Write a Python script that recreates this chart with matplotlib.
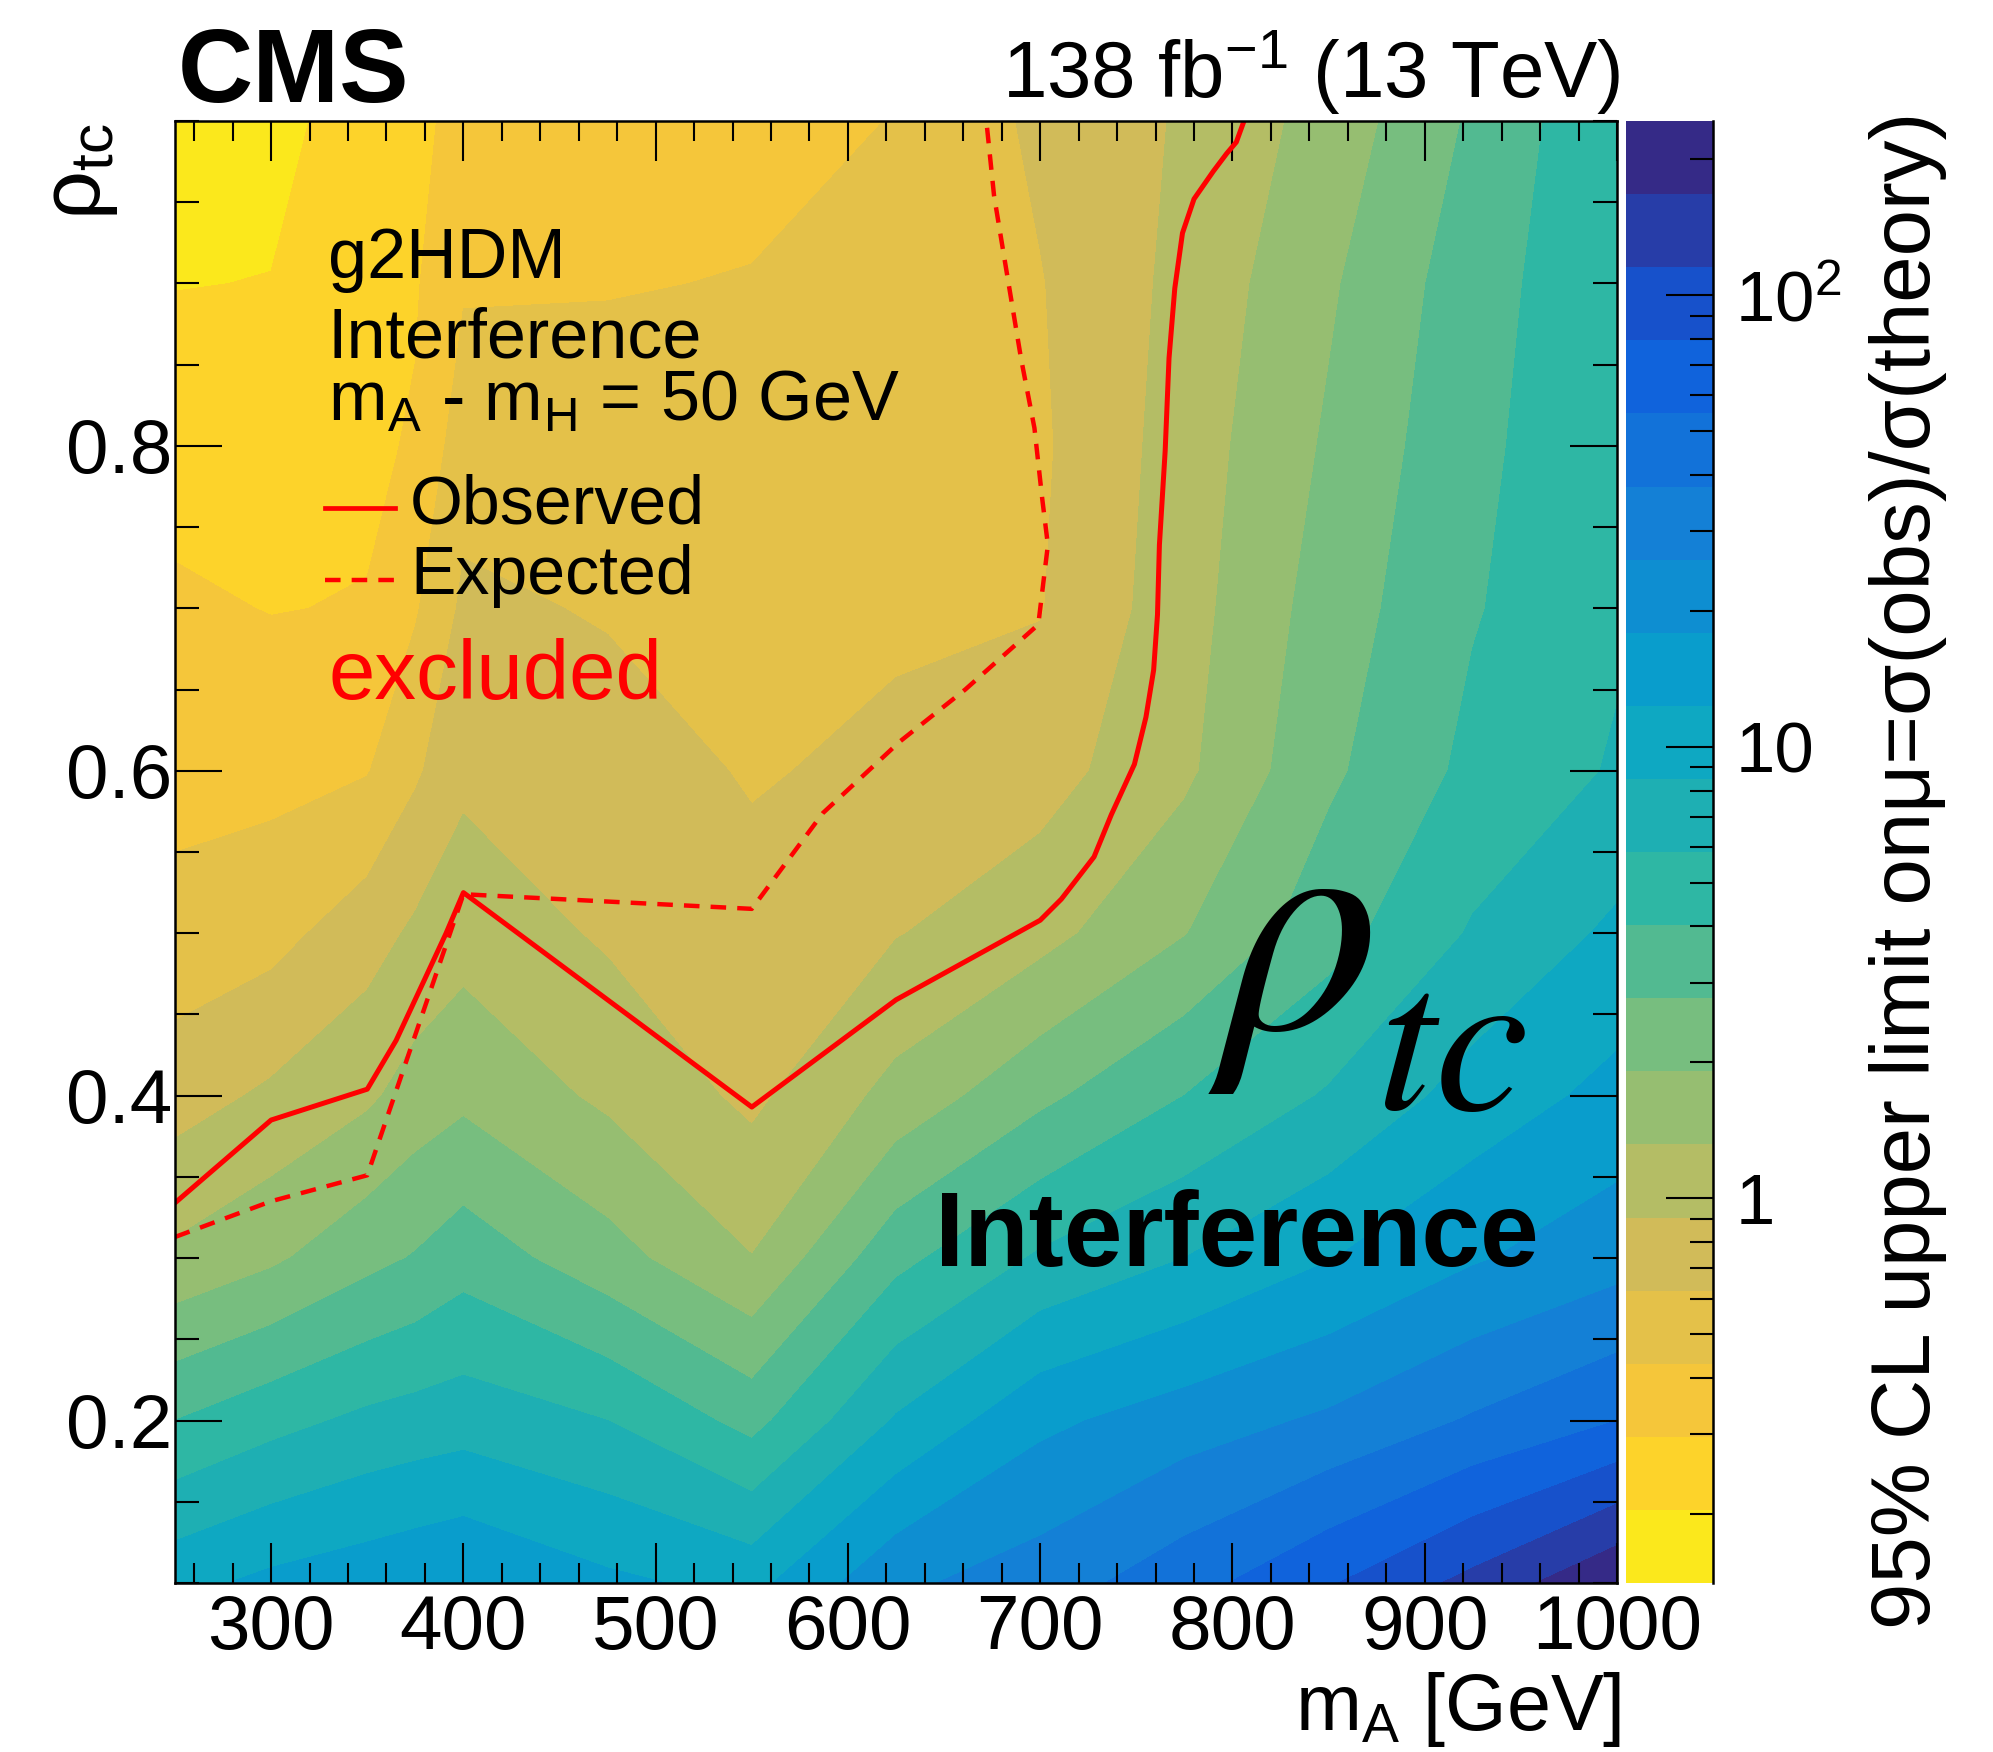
import numpy as np
import matplotlib
matplotlib.use("Agg")
import matplotlib.pyplot as plt
from matplotlib.colors import LinearSegmentedColormap
from matplotlib.lines import Line2D
from matplotlib.ticker import FixedLocator, MultipleLocator

plt.rcParams['font.family'] = ['Liberation Sans', 'DejaVu Sans']
plt.rcParams['mathtext.fontset'] = 'custom'
plt.rcParams['mathtext.rm'] = 'Liberation Sans'
plt.rcParams['mathtext.it'] = 'Liberation Sans:italic'
plt.rcParams['mathtext.bf'] = 'Liberation Sans:bold'

# ---------------------------------------------------------------- data
m_A = [250, 300, 350, 375, 400, 475, 550, 625, 700, 775, 850, 925, 1000]
rho_tc = [0.1, 0.2, 0.3, 0.4, 0.5, 0.6, 0.7, 0.8, 0.9, 1.0]

# observed 95% CL upper limit on mu, one row per rho_tc value
mu_rho_010 = [11.0, 13.5, 15.4, 16.6, 17.9, 13.3, 11.0, 24.1, 31.3, 47.2, 76.6, 129.0, 234.0]
mu_rho_020 = [4.03, 5.17, 6.35, 6.79, 7.18, 5.85, 3.56, 8.81, 16.4, 21.6, 27.6, 39.2, 54.7]
mu_rho_030 = [1.42, 1.79, 2.49, 2.85, 3.44, 2.21, 1.33, 3.61, 6.16, 8.49, 12.1, 17.2, 22.4]
mu_rho_040 = [0.772, 0.966, 1.23, 1.54, 1.75, 1.22, 0.835, 1.48, 2.54, 4.03, 6.07, 9.86, 13.8]
mu_rho_050 = [0.488, 0.550, 0.770, 0.970, 1.14, 0.861, 0.704, 0.890, 1.16, 1.88, 3.47, 6.07, 9.15]
mu_rho_060 = [0.379, 0.386, 0.422, 0.590, 0.835, 0.733, 0.606, 0.675, 0.778, 1.22, 2.58, 4.42, 6.07]
mu_rho_070 = [0.315, 0.293, 0.302, 0.414, 0.671, 0.606, 0.542, 0.590, 0.613, 1.13, 2.28, 3.91, 5.53]
mu_rho_080 = [0.255, 0.243, 0.275, 0.308, 0.532, 0.507, 0.487, 0.538, 0.590, 1.08, 2.01, 3.68, 5.43]
mu_rho_090 = [0.202, 0.206, 0.255, 0.286, 0.414, 0.422, 0.437, 0.509, 0.613, 1.01, 1.81, 3.41, 5.53]
mu_rho_100 = [0.149, 0.184, 0.240, 0.280, 0.319, 0.344, 0.385, 0.435, 0.673, 0.945, 1.52, 2.93, 5.63]

# exclusion contours (mu = 1)
obs_mA = [250, 300, 350, 365, 380, 391, 400, 550, 625, 700, 711, 728, 737, 749, 755,
          759, 761, 762, 765, 767, 770, 774, 780, 790, 797, 802, 806]
obs_rho = [0.334, 0.385, 0.404, 0.434, 0.472, 0.500, 0.525, 0.393, 0.459, 0.508, 0.521,
           0.547, 0.573, 0.604, 0.633, 0.662, 0.696, 0.739, 0.797, 0.854, 0.897, 0.931,
           0.952, 0.969, 0.980, 0.987, 1.0]
exp_mA = [250, 300, 350, 400, 550, 587, 627, 661, 699, 704, 701, 697, 690, 682, 676, 672]
exp_rho = [0.313, 0.335, 0.351, 0.524, 0.515, 0.574, 0.618, 0.650, 0.690, 0.739, 0.768,
           0.811, 0.854, 0.911, 0.954, 1.0]

z_min, z_max = 0.1407, 243.0
x_major = [300, 400, 500, 600, 700, 800, 900, 1000]
y_major = [0.2, 0.4, 0.6, 0.8]
cbar_ticks = [1, 10, 100]
cbar_ticklabels = ['1', '10', '10$^{2}$']

# ---------------------------------------------------------------- palette
bird_stops = [0.0, 0.125, 0.25, 0.375, 0.5, 0.625, 0.75, 0.875, 1.0]
bird_rgb = [(0.2082, 0.1664, 0.5293), (0.0592, 0.3599, 0.8684), (0.0780, 0.5041, 0.8385),
            (0.0232, 0.6419, 0.7914), (0.1802, 0.7178, 0.6425), (0.5301, 0.7492, 0.4662),
            (0.8186, 0.7328, 0.3499), (0.9956, 0.7862, 0.1968), (0.9764, 0.9832, 0.0539)]
bird = LinearSegmentedColormap.from_list('bird', list(zip(bird_stops, bird_rgb)), N=255)
n_bands = 20
band_colors = [bird(1.0 - int((k + 0.99) * 255 / n_bands) / 254.0) for k in range(n_bands)]

# ---------------------------------------------------------------- figure
W, H = 1993, 1752
fig = plt.figure(figsize=(W / 100, H / 100), dpi=100)


def fx(px):
    return px / W


def fy(py):
    return 1 - py / H


ax = fig.add_axes([fx(175), fy(1583), (1617 - 175) / W, (1583 - 121) / H])
cax = fig.add_axes([fx(1626), fy(1583), 87 / W, (1583 - 121) / H])

mu_grid = np.array([mu_rho_010, mu_rho_020, mu_rho_030, mu_rho_040, mu_rho_050,
                    mu_rho_060, mu_rho_070, mu_rho_080, mu_rho_090, mu_rho_100])
levels = np.linspace(np.log10(z_min), np.log10(z_max), n_bands + 1)
cf = ax.contourf(m_A, rho_tc, np.log10(mu_grid), levels=levels, colors=band_colors)

ax.plot(obs_mA, obs_rho, color='red', lw=3.6, solid_joinstyle='round')
ax.plot(exp_mA, exp_rho, color='red', lw=3.2, ls=(0, (3.5, 2.5)))

ax.set_xlim(250, 1000)
ax.set_ylim(0.1, 1.0)
ax.xaxis.set_major_locator(FixedLocator(x_major))
ax.xaxis.set_minor_locator(MultipleLocator(20))
ax.yaxis.set_major_locator(FixedLocator(y_major))
ax.yaxis.set_minor_locator(MultipleLocator(0.05))
ax.tick_params(axis='both', which='both', direction='in', top=True, right=True,
               width=1.5, labelsize=55, colors='black')
ax.tick_params(axis='x', which='major', length=29, pad=8)
ax.tick_params(axis='x', which='minor', length=14.5)
ax.tick_params(axis='y', which='major', length=34, pad=2)
ax.tick_params(axis='y', which='minor', length=17)
for sp in ax.spines.values():
    sp.set_linewidth(1.8)

# colour scale
cb = fig.colorbar(cf, cax=cax)
cb.outline.set_visible(False)
cb.set_ticks(np.log10(cbar_ticks), labels=cbar_ticklabels)
minor_vals = [v * d for d in (0.1, 1, 10, 100) for v in range(2, 10)]
minor_vals = [v for v in minor_vals if z_min <= v <= z_max and v not in cbar_ticks]
cb.set_ticks(np.log10(minor_vals), minor=True)
cax.tick_params(which='both', direction='in', right=True, left=False,
                labelright=True, labelleft=False, width=1.5, labelsize=51, pad=16)
cax.tick_params(which='major', length=34)
cax.tick_params(which='minor', length=16.5)
cax.plot([1, 1], [0, 1], transform=cax.transAxes, color='black', lw=1.8, clip_on=False)

# header
fig.text(fx(178), fy(102), 'CMS', fontsize=75, fontweight='bold', ha='left', va='baseline')
fig.text(fx(1621), fy(98), '138 fb$^{\\mathrm{-1}}$ (13 TeV)', fontsize=57.5,
         ha='right', va='baseline')

# axis titles
fig.text(fx(1621), fy(1730), 'm$_{\\mathrm{A}}$ [GeV]', fontsize=57, ha='right', va='baseline')
fig.text(fx(100), fy(123), 'ρ$_{\\mathrm{tc}}$', fontsize=62, rotation=90,
         rotation_mode='anchor', ha='right', va='baseline')
fig.text(fx(1930), fy(112), '95% CL upper limit onμ=σ(obs)/σ(theory)', fontsize=60,
         rotation=90, rotation_mode='anchor', ha='right', va='baseline')

# legend block
fig.text(fx(328), fy(278), 'g2HDM', fontsize=50.5, ha='left', va='baseline')
fig.text(fx(328), fy(357), 'Interference', fontsize=50.5, ha='left', va='baseline')
fig.text(fx(328), fy(421), 'm$_{\\mathrm{A}}$ - m$_{\\mathrm{H}}$ = 50 GeV', fontsize=50.5,
         ha='left', va='baseline')
fig.add_artist(Line2D([fx(325), fx(395)], [fy(508), fy(508)], color='red', lw=3.4,
                      transform=fig.transFigure))
fig.add_artist(Line2D([fx(325), fx(395)], [fy(580), fy(580)], color='red', lw=3.2,
                      ls=(0, (3.5, 2.5)), transform=fig.transFigure))
fig.text(fx(410), fy(523), 'Observed', fontsize=49, ha='left', va='baseline')
fig.text(fx(410), fy(594), 'Expected', fontsize=49, ha='left', va='baseline')
fig.text(fx(329), fy(699), 'excluded', fontsize=60, color='red', ha='left', va='baseline')

# model label
fig.text(fx(1208), fy(1029), r'$\rho$', fontsize=228, math_fontfamily='stix',
         ha='left', va='baseline')
fig.text(fx(1376), fy(1109), r'$tc$', fontsize=152, math_fontfamily='stix',
         ha='left', va='baseline')
fig.text(fx(935), fy(1266), 'Interference', fontsize=76, fontweight='bold',
         ha='left', va='baseline')

fig.savefig('out.png', dpi=100)
